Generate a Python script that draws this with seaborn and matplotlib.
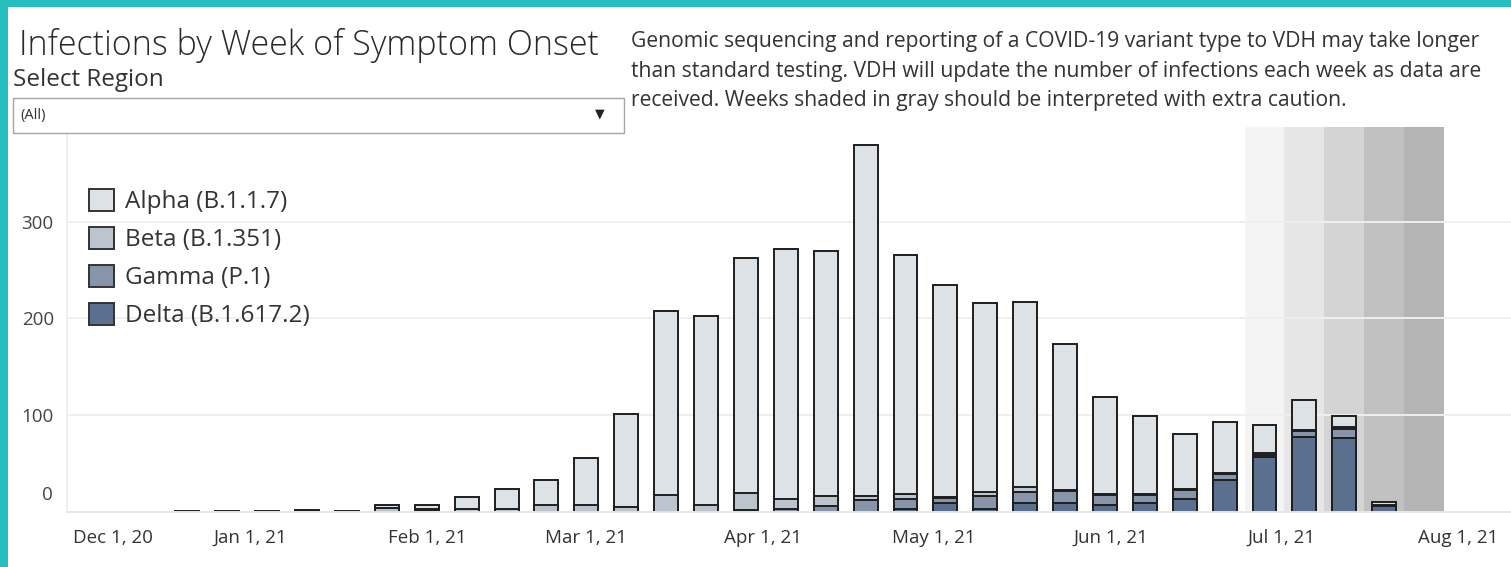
import matplotlib
matplotlib.use("Agg")
import matplotlib.pyplot as plt
import matplotlib.dates as mdates
from matplotlib.patches import Patch, Rectangle
import seaborn as sns
import pandas as pd
import numpy as np

# ---------------- data ----------------
weeks = ["2020-12-21", "2020-12-28", "2021-01-04", "2021-01-11", "2021-01-18",
         "2021-01-25", "2021-02-01", "2021-02-08", "2021-02-15", "2021-02-22",
         "2021-03-01", "2021-03-08", "2021-03-15", "2021-03-22", "2021-03-29",
         "2021-04-05", "2021-04-12", "2021-04-19", "2021-04-26", "2021-05-03",
         "2021-05-10", "2021-05-17", "2021-05-24", "2021-05-31", "2021-06-07",
         "2021-06-14", "2021-06-21", "2021-06-28", "2021-07-05", "2021-07-12",
         "2021-07-19"]
alpha = [1, 1, 1, 1, 1, 3, 4, 12, 20, 26, 49, 96, 191, 195, 243, 259, 254, 363,
         248, 220, 196, 191, 152, 101, 81, 57, 53, 29, 31, 11, 3]
beta = [0, 0, 0, 1, 0, 4, 2, 3, 3, 7, 7, 5, 17, 7, 17, 10, 10, 4,
        5, 1, 4, 6, 1, 1, 1, 1, 1, 2, 2, 2, 1]
gamma = [0, 0, 0, 0, 0, 0, 1, 0, 0, 0, 0, 0, 0, 0, 2, 3, 6, 12,
         10, 5, 13, 11, 12, 10, 8, 9, 6, 2, 6, 10, 0]
delta = [0, 0, 0, 0, 0, 0, 0, 0, 0, 0, 0, 0, 0, 0, 0, 0, 0, 0,
         3, 9, 3, 9, 9, 7, 9, 13, 33, 57, 77, 76, 6]
variant_labels = ["Alpha (B.1.1.7)", "Beta (B.1.351)", "Gamma (P.1)", "Delta (B.1.617.2)"]
variant_colors = ["#dde2e7", "#bcc4ce", "#8794aa", "#5b6f8f"]

shade_weeks = ["2021-06-28", "2021-07-05", "2021-07-12", "2021-07-19", "2021-07-26"]
shade_colors = ["#f4f4f4", "#e6e6e6", "#d4d4d4", "#c1c1c1", "#b4b4b4"]

month_ticks = ["2020-12-01", "2021-01-01", "2021-02-01", "2021-03-01", "2021-04-01",
               "2021-05-01", "2021-06-01", "2021-07-01", "2021-08-01"]
month_labels = ["Dec 1, 20", "Jan 1, 21", "Feb 1, 21", "Mar 1, 21", "Apr 1, 21",
                "May 1, 21", "Jun 1, 21", "Jul 1, 21", "Aug 1, 21"]
y_ticks = [0, 100, 200, 300]

title = "Infections by Week of Symptom Onset"
subtitle = "Select Region"
dropdown_value = "(All)"
note_lines = ["Genomic sequencing and reporting of a COVID-19 variant type to VDH may take longer",
              "than standard testing. VDH will update the number of infections each week as data are",
              "received. Weeks shaded in gray should be interpreted with extra caution."]

# ---------------- figure ----------------
W, H = 1511, 567
sns.set_style("white")
plt.rcParams["font.family"] = ["Open Sans", "DejaVu Sans"]

fig = plt.figure(figsize=(W / 100, H / 100), dpi=100)


def fx(x):
    return x / W


def fy(y):
    return 1 - y / H


ax = fig.add_axes([fx(67), fy(511.7), fx(W - 67), (511.7 - 127) / H])

df = pd.DataFrame({
    "week": pd.to_datetime(weeks),
    "Alpha": alpha, "Beta": beta, "Gamma": gamma, "Delta": delta,
})
df["x"] = mdates.date2num(df["week"])
df["top_delta"] = df["Delta"]
df["top_gamma"] = df["top_delta"] + df["Gamma"]
df["top_beta"] = df["top_gamma"] + df["Beta"]
df["top_alpha"] = df["top_beta"] + df["Alpha"]

# shaded weeks
for wk, c in zip(shade_weeks, shade_colors):
    xc = mdates.date2num(pd.Timestamp(wk))
    ax.axvspan(xc - 3.5, xc + 3.5, color=c, lw=0, zorder=0.2)

# stacked bars (draw cumulative totals from top layer down)
for col, c in zip(["top_alpha", "top_beta", "top_gamma", "top_delta"], variant_colors):
    sns.barplot(data=df, x="x", y=col, native_scale=True, width=0.6, color=c,
                saturation=1, edgecolor="#1e1e1e", linewidth=1.4, errorbar=None,
                ax=ax, zorder=2)

ax.set_xlim(mdates.date2num(pd.Timestamp("2020-11-29 21:00")),
            mdates.date2num(pd.Timestamp("2021-08-10 06:00")))
ax.set_ylim(0, 398)

ax.set_xticks(mdates.date2num(pd.to_datetime(month_ticks)))
ax.set_xticklabels(month_labels)
ax.set_yticks(y_ticks)
ax.set_yticklabels([str(v) if v != 0 else "" for v in y_ticks])
ax.set_xlabel("")
ax.set_ylabel("")

ax.set_axisbelow(True)
ax.yaxis.grid(True, color="#efefef", lw=1.4)
ax.xaxis.grid(False)
for s in ["top", "right"]:
    ax.spines[s].set_visible(False)
ax.spines["left"].set_color("#ececec")
ax.spines["bottom"].set_color("#e6e6e6")
ax.spines["left"].set_linewidth(1.2)
ax.spines["bottom"].set_linewidth(1.4)
ax.tick_params(axis="y", length=6.5, width=1.2, color="#ececec", labelsize=13.5,
               labelcolor="#444444", pad=3)
ax.tick_params(axis="x", length=6, width=1.2, color="#e6e6e6", labelsize=13.5,
               labelcolor="#333333", pad=6.5)
xl = ax.get_xticklabels()
xl[0].set_ha("left")
ax.annotate("0", xy=(0, 0), xycoords=("axes fraction", "data"), xytext=(-10, 12),
            textcoords="offset points", ha="right", va="center", fontsize=13.5,
            color="#444444")

# legend
handles = [Patch(facecolor=c, edgecolor="#333333", linewidth=1.4) for c in variant_colors]
leg = fig.legend(handles, variant_labels, loc="upper left",
                 bbox_to_anchor=(fx(89), fy(189)), frameon=False, fontsize=17.5,
                 handlelength=1.03, handleheight=0.99, labelspacing=0.53,
                 handletextpad=0.45, borderpad=0, borderaxespad=0)
for t in leg.get_texts():
    t.set_color("#333333")

# header texts
fig.text(fx(19), fy(55), title, fontsize=24.5, color="#2a2a2a", va="baseline",
         ha="left", fontweight="light")
fig.text(fx(13), fy(86), subtitle, fontsize=17.5, color="#333333", va="baseline", ha="left")
fig.patches.append(Rectangle((fx(13), fy(133)), fx(624 - 13), (133 - 98) / H,
                             transform=fig.transFigure, facecolor="white",
                             edgecolor="#a6a6a6", lw=1.0))
fig.text(fx(20), fy(115), dropdown_value, fontsize=10.5, color="#333333", va="center", ha="left")
fig.text(fx(600), fy(114), "\u25BC", fontsize=9, color="#222222", va="center",
         ha="center", family=["DejaVu Sans"])
for i, line in enumerate(note_lines):
    fig.text(fx(631), fy(41 + 30 * i), line, fontsize=15.2, color="#333333",
             va="center", ha="left")

# teal frame
fig.patches.append(Rectangle((0, 0), fx(8), 1, transform=fig.transFigure,
                             facecolor="#26bebf", edgecolor="none"))
fig.patches.append(Rectangle((0, fy(7)), 1, 7 / H, transform=fig.transFigure,
                             facecolor="#26bebf", edgecolor="none"))

fig.savefig("out.png", dpi=100)
